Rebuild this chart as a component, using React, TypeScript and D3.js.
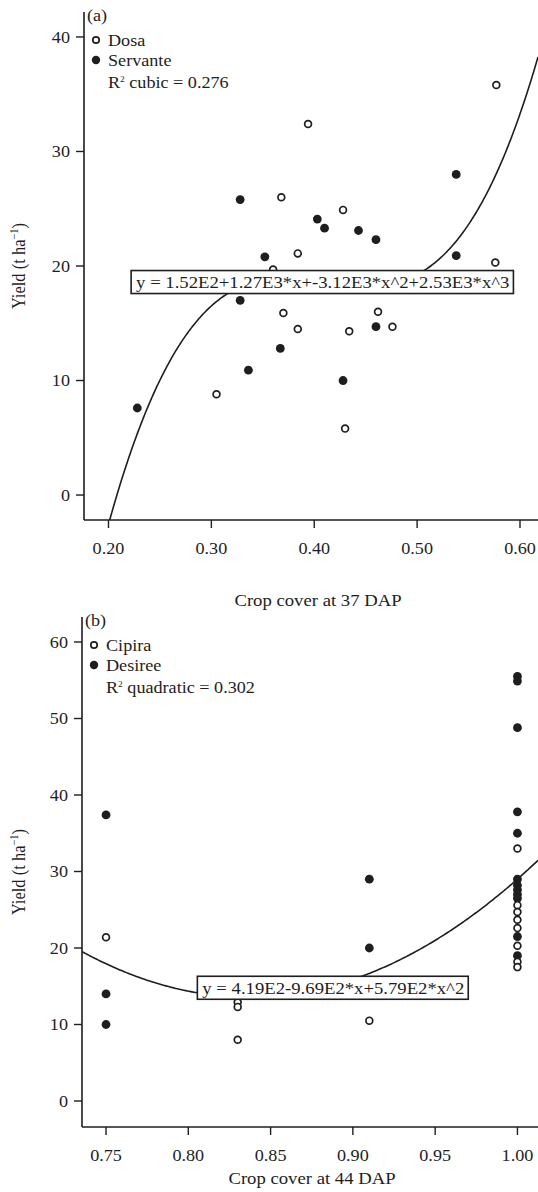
import { useEffect, useRef } from 'react';
import * as d3 from 'd3';

// panel (a): crop cover at 37 DAP
const dosaX = [0.305, 0.360, 0.368, 0.370, 0.384, 0.384, 0.394, 0.428, 0.430, 0.434, 0.462, 0.476, 0.576, 0.577];
const dosaY = [8.8, 19.7, 26.0, 15.9, 21.1, 14.5, 32.4, 24.9, 5.8, 14.3, 16.0, 14.7, 20.3, 35.8];
const servanteX = [0.228, 0.328, 0.328, 0.336, 0.352, 0.367, 0.403, 0.410, 0.428, 0.443, 0.460, 0.460, 0.538, 0.538];
const servanteY = [7.6, 25.8, 17.0, 10.9, 20.8, 12.8, 24.1, 23.3, 10.0, 23.1, 22.3, 14.7, 28.0, 20.9];
const cubicCoef = [-152, 1270, -3120, 2530];
const ticksXa = [0.2, 0.3, 0.4, 0.5, 0.6];
const ticksYa = [0, 10, 20, 30, 40];

// panel (b): crop cover at 44 DAP
const cipiraX = [0.75, 0.83, 0.83, 0.83, 0.91, 1, 1, 1, 1, 1, 1, 1, 1];
const cipiraY = [21.4, 12.9, 12.3, 8.0, 10.5, 33.0, 25.6, 24.7, 23.7, 22.6, 20.3, 18.2, 17.5];
const desireeX = [0.75, 0.75, 0.75, 0.91, 0.91, 1, 1, 1, 1, 1, 1, 1, 1, 1, 1, 1, 1];
const desireeY = [37.4, 14.0, 10.0, 29.0, 20.0, 55.5, 54.9, 48.8, 37.8, 35.0, 29.0, 28.2, 27.6, 27.0, 26.5, 21.5, 19.0];
const quadCoef = [419, -969, 579];
const ticksXb = [0.75, 0.8, 0.85, 0.9, 0.95, 1.0];
const ticksYb = [0, 10, 20, 30, 40, 50, 60];

const FONT = '"Liberation Serif", "Times New Roman", serif';
const INK = '#1e1e1e';
const SX = 1.1; // the figure's text is a little wider than plain Times

type Panel = {
  tag: string;
  left: number; right: number; top: number; bottom: number;
  xDom: [number, number]; yDom: [number, number];
  xTicks: number[]; yTicks: number[];
  openX: number[]; openY: number[]; fillX: number[]; fillY: number[];
  openName: string; fillName: string; fitName: string;
  coef: number[]; eq: string; eqX: number; eqY: number;
  xTitle: string; xTitleX: number; xTitleY: number;
};

const panels: Panel[] = [
  {
    tag: '(a)', left: 84, right: 538, top: 12, bottom: 520,
    xDom: [0.1762, 0.6175], yDom: [-2.18, 42.18],
    xTicks: ticksXa, yTicks: ticksYa,
    openX: dosaX, openY: dosaY, fillX: servanteX, fillY: servanteY,
    openName: 'Dosa', fillName: 'Servante', fitName: ' cubic = 0.276',
    coef: cubicCoef, eq: 'y = 1.52E2+1.27E3*x+-3.12E3*x^2+2.53E3*x^3', eqX: 0.222, eqY: 18.6,
    xTitle: 'Crop cover at 37 DAP', xTitleX: 318, xTitleY: 606,
  },
  {
    tag: '(b)', left: 82, right: 538, top: 617, bottom: 1127,
    xDom: [0.7354, 1.0125], yDom: [-3.4, 63.27],
    xTicks: ticksXb, yTicks: ticksYb,
    openX: cipiraX, openY: cipiraY, fillX: desireeX, fillY: desireeY,
    openName: 'Cipira', fillName: 'Desiree', fitName: ' quadratic = 0.302',
    coef: quadCoef, eq: 'y = 4.19E2-9.69E2*x+5.79E2*x^2', eqX: 0.8055, eqY: 14.8,
    xTitle: 'Crop cover at 44 DAP', xTitleX: 312, xTitleY: 1184,
  },
];

type Sel = d3.Selection<any, unknown, null, undefined>;

// text placed at (x, y), slightly widened
function label(parent: Sel, x: number, y: number, size: number, anchor = 'start') {
  return parent.append('text')
    .attr('transform', `translate(${x},${y}) scale(${SX},1)`)
    .attr('text-anchor', anchor)
    .attr('font-family', FONT)
    .attr('font-size', size)
    .attr('fill', INK);
}

export default function App() {
  const ref = useRef<SVGSVGElement>(null);

  useEffect(() => {
    const svg = d3.select(ref.current);
    svg.selectAll('*').remove();

    panels.forEach((p, i) => {
      const x = d3.scaleLinear().domain(p.xDom).range([p.left, p.right]);
      const y = d3.scaleLinear().domain(p.yDom).range([p.bottom, p.top]);
      const g: Sel = svg.append('g');

      const clipId = `clip${i}`;
      svg.append('clipPath').attr('id', clipId)
        .append('rect').attr('x', p.left).attr('y', p.top)
        .attr('width', p.right - p.left).attr('height', p.bottom - p.top);

      // fitted curve
      const f = (v: number) => p.coef.reduce((s, c, k) => s + c * Math.pow(v, k), 0);
      const xs = d3.range(p.xDom[0], p.xDom[1], 0.001).concat([p.xDom[1]]);
      g.append('path')
        .attr('clip-path', `url(#${clipId})`)
        .attr('d', d3.line<number>().x(v => x(v)).y(v => y(f(v)))(xs))
        .attr('fill', 'none').attr('stroke', INK).attr('stroke-width', 1.6);

      // points
      g.selectAll('circle.fill').data(p.fillX.map((v, k) => [v, p.fillY[k]]))
        .join('circle').attr('class', 'fill')
        .attr('cx', d => x(d[0])).attr('cy', d => y(d[1])).attr('r', 4.4)
        .attr('fill', INK);
      g.selectAll('circle.open').data(p.openX.map((v, k) => [v, p.openY[k]]))
        .join('circle').attr('class', 'open')
        .attr('cx', d => x(d[0])).attr('cy', d => y(d[1])).attr('r', 3.4)
        .attr('fill', '#fff').attr('stroke', INK).attr('stroke-width', 1.7);

      // axes
      g.append('line').attr('x1', p.left).attr('x2', p.left).attr('y1', p.top).attr('y2', p.bottom)
        .attr('stroke', INK).attr('stroke-width', 1.6);
      g.append('line').attr('x1', p.left).attr('x2', p.right).attr('y1', p.bottom).attr('y2', p.bottom)
        .attr('stroke', INK).attr('stroke-width', 1.6);

      p.yTicks.forEach(t => {
        g.append('line').attr('x1', p.left - 8).attr('x2', p.left).attr('y1', y(t)).attr('y2', y(t))
          .attr('stroke', INK).attr('stroke-width', 1.4);
        label(g, p.left - 14, y(t), 16.5, 'end').attr('dy', '0.35em').text(String(t));
      });
      p.xTicks.forEach(t => {
        g.append('line').attr('x1', x(t)).attr('x2', x(t)).attr('y1', p.bottom).attr('y2', p.bottom + 8)
          .attr('stroke', INK).attr('stroke-width', 1.4);
        label(g, x(t), p.bottom + 28, 16.5, 'middle').attr('dy', '0.35em').text(d3.format('.2f')(t));
      });

      // axis titles
      label(g, p.xTitleX, p.xTitleY, 17, 'middle').text(p.xTitle);
      const yt = g.append('text')
        .attr('transform', `translate(25,${(p.top + p.bottom) / 2}) rotate(-90) scale(1,${SX})`)
        .attr('text-anchor', 'middle').attr('font-family', FONT).attr('font-size', 16.5)
        .attr('fill', INK);
      yt.append('tspan').text('Yield (t ha');
      yt.append('tspan').attr('font-size', 10.5).attr('dy', -6).text('\u22121');
      yt.append('tspan').attr('dy', 6).text(')');

      // equation box
      const eg = g.append('g');
      const rect = eg.append('rect');
      const et = label(eg, x(p.eqX) + 5, y(p.eqY), 17).attr('dy', '0.35em').text(p.eq);
      const bb = (et.node() as SVGTextElement).getBBox();
      rect.attr('x', x(p.eqX)).attr('y', y(p.eqY) - 11.5)
        .attr('width', bb.width * SX + 9).attr('height', 23)
        .attr('fill', '#fff').attr('stroke', INK).attr('stroke-width', 1.6);

      // panel tag and legend
      label(g, p.left + 3, p.top + 9, 16.5).text(p.tag);
      const lx = p.left + 12;
      const ly = p.top + 28;
      g.append('circle').attr('cx', lx).attr('cy', ly).attr('r', 3.2)
        .attr('fill', '#fff').attr('stroke', INK).attr('stroke-width', 1.7);
      label(g, lx + 12, ly, 16.5).attr('dy', '0.35em').text(p.openName);
      g.append('circle').attr('cx', lx).attr('cy', ly + 20).attr('r', 4.2).attr('fill', INK);
      label(g, lx + 12, ly + 20, 16.5).attr('dy', '0.35em').text(p.fillName);
      const rt = label(g, lx + 12, ly + 42, 16.5).attr('dy', '0.35em');
      rt.append('tspan').text('R');
      rt.append('tspan').attr('font-size', 8.5).attr('dy', -6).text('2');
      rt.append('tspan').attr('dy', 6).text(p.fitName);
    });
  }, []);

  return (
    <div style={{ position: 'absolute', left: 0, top: 0 }}>
      <style>{'body{margin:0}'}</style>
      <svg ref={ref} width={538} height={1192} style={{ display: 'block', background: '#fff' }} />
    </div>
  );
}
